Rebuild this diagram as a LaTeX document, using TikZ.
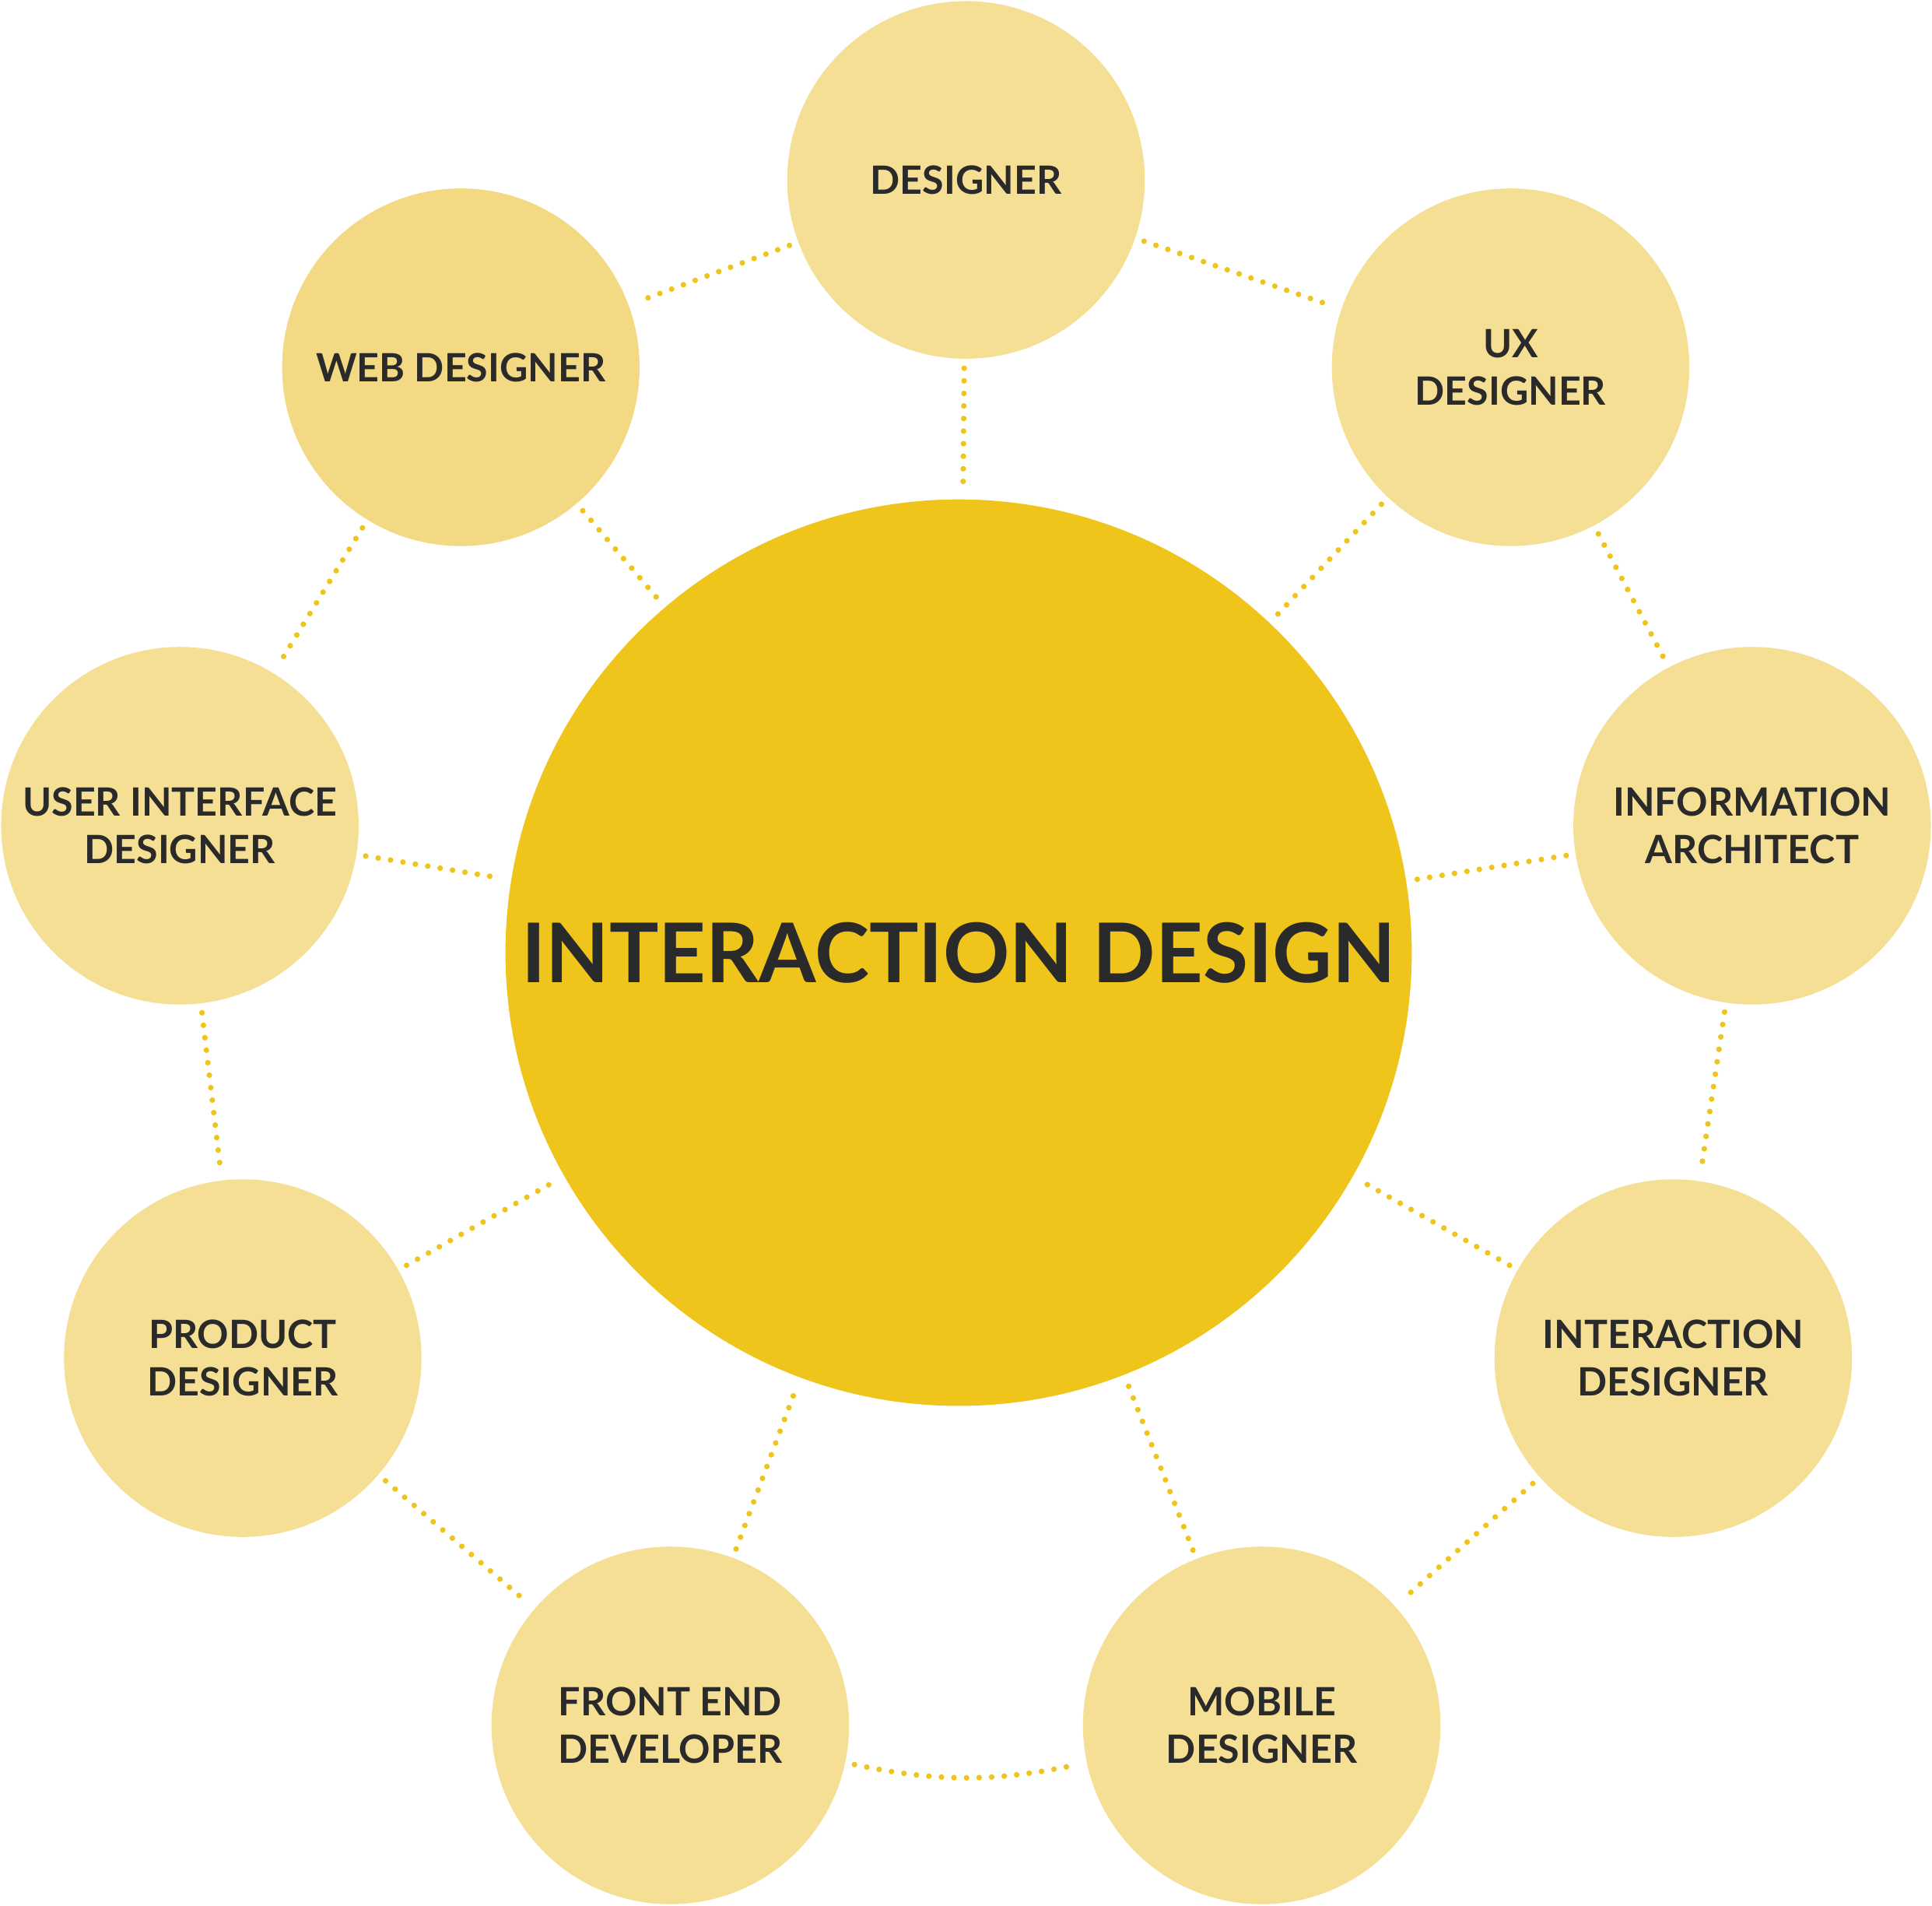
\documentclass[tikz,border=0pt]{standalone}
\usepackage{fontspec}
\setmainfont{Lato}
\definecolor{core}{HTML}{EFC51C}
\definecolor{role}{HTML}{F5DF94}
\definecolor{roledark}{HTML}{F3D983}
\definecolor{ink}{HTML}{2A2A2A}
\tikzset{
	role map/.cd,
	role/.style = {
		circle,
		fill = role,
		minimum size = 2.9cm,
		inner sep = 0pt,
		align = center,
		text = ink,
		font = \fontsize{9pt}{11pt}\selectfont\bfseries
	},
	link/.style = {
		draw = core,
		line width = 1.3pt,
		line cap = round,
		dash pattern = on 0pt off 2.9pt,
		shorten >= 2pt,
		shorten <= 2pt
	},
}

\begin{document}
\begin{tikzpicture}[x = 0.01cm, y = -0.01cm]
		\useasboundingbox (0, 0) rectangle (1568, 1546);
		\node[circle, fill = core, minimum size = 7.18cm, text = ink,
			font = \fontsize{19pt}{22pt}\selectfont\bfseries] (core) at (778, 773) {INTERACTION DESIGN};
		\node[role map/role] (designer) at (784, 146) {DESIGNER};
		\node[role map/role] (ux) at (1226, 298) {UX\\DESIGNER};
		\node[role map/role] (info) at (1422, 670) {INFORMATION\\ARCHITECT};
		\node[role map/role] (ixd) at (1358, 1102) {INTERACTION\\DESIGNER};
		\node[role map/role] (mobile) at (1024, 1400) {MOBILE\\DESIGNER};
		\node[role map/role] (frontend) at (544, 1400) {FRONT END\\DEVELOPER};
		\node[role map/role] (product) at (197, 1102) {PRODUCT\\DESIGNER};
		\node[role map/role] (ui) at (146, 670) {USER INTERFACE\\DESIGNER};
		\node[role map/role, fill = roledark] (web) at (374, 298) {WEB DESIGNER};
		% spokes to the core
		\foreach \r in {designer, ux, info, ixd, mobile, frontend, product, ui, web}
			\draw[role map/link] (\r) -- (core);
		% outer ring
		\foreach \a/\b in {designer/ux, ux/info, info/ixd, ixd/mobile,
				product/frontend, ui/product, web/ui, designer/web}
			\draw[role map/link] (\a) -- (\b);
		\draw[role map/link] (frontend) to[bend right = 12] (mobile);
	\end{tikzpicture}
\end{document}
